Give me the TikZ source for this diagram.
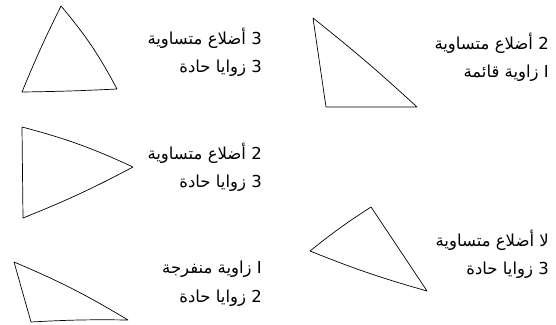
\documentclass[tikz,border=0pt]{standalone}
\usepackage{fontspec}
\TeXXeTstate=1
\newfontfamily\arabicfont[Script=Arabic]{DejaVu Sans}
\begin{document}
\begin{tikzpicture}[x=1pt,y=-1pt,
  tri/.style={draw=black,line width=0.7pt,line join=round},
  lbl/.style={anchor=east,inner sep=0pt,font=\arabicfont\fontsize{16.5}{18}\selectfont}]
\useasboundingbox (0,0) rectangle (556,324);
% triangle 1
\coordinate (a1) at (61,6);
\coordinate (b1) at (22,92);
\coordinate (c1) at (117,89);
\draw[tri] (a1) to[bend right=2] (b1) to[bend right=1] (c1) to[bend right=6] (a1);
% triangle 2
\coordinate (a2) at (313,18);
\coordinate (b2) at (326,107);
\coordinate (c2) at (417,107);
\draw[tri] (a2) -- (b2) -- (c2) to[bend right=2] (a2);
% triangle 3
\coordinate (a3) at (22,127);
\coordinate (b3) at (23,218);
\coordinate (c3) at (133,167);
\draw[tri] (a3) -- (b3) to[bend right=3] (c3) to[bend right=5] (a3);
% triangle 4
\coordinate (a4) at (371,207);
\coordinate (b4) at (310,251);
\coordinate (c4) at (427,291);
\draw[tri] (a4) to[bend right=3] (b4) to[bend right=3] (c4) -- (a4);
% triangle 5
\coordinate (a5) at (14,262);
\coordinate (b5) at (31,322);
\coordinate (c5) at (128,320);
\draw[tri] (a5) -- (b5) to[bend left=2] (c5) to[bend right=4] (a5);
% labels
\node[lbl] (t1a) at (262,38) {\beginR 3 أضلاع متساوية\endR};
\node[lbl] (t1b) at (262,68) {\beginR 3 زوايا حادة\endR};
\node[lbl] (t2a) at (549,43) {\beginR 2 أضلاع متساوية\endR};
\node[lbl] (t2b) at (549,73) {\beginR I زاوية قائمة\endR};
\node[lbl] (t3a) at (262,153) {\beginR 2 أضلاع متساوية\endR};
\node[lbl] (t3b) at (262,183) {\beginR 3 زوايا حادة\endR};
\node[lbl] (t4a) at (549,240) {\beginR لا أضلاع متساوية\endR};
\node[lbl] (t4b) at (549,270) {\beginR 3 زوايا حادة\endR};
\node[lbl] (t5a) at (262,269) {\beginR I زاوية منفرجة\endR};
\node[lbl] (t5b) at (262,298) {\beginR 2 زوايا حادة\endR};
\end{tikzpicture}
\end{document}
